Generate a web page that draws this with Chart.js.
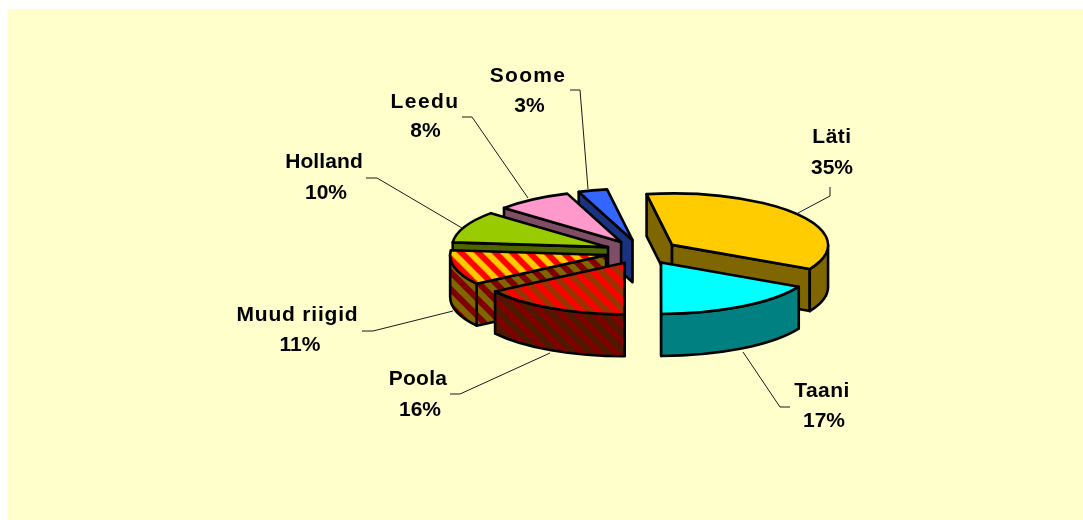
<!DOCTYPE html>
<html>
<head>
<meta charset="utf-8">
<style>html,body{margin:0;padding:0;background:#fff}canvas{display:block}</style>
<script src="https://cdn.jsdelivr.net/npm/chart.js@4"></script>
</head>
<body>
<canvas id="c" width="1083" height="520"></canvas>
<script>
const categories = ['Läti', 'Taani', 'Poola', 'Muud riigid', 'Holland', 'Leedu', 'Soome'];
const shares = [35.4, 17.2, 15.6, 10.9, 10, 7.9, 3];

// Styling, kept apart from the data
const SQUASH = 0.33, DEPTH = 42, RADIUS = 156, EXPLODE = 37;
const topColors  = ['#FFCC00', '#00FFFF', ['#FF0000', '#993300'], ['#FF0000', '#FFCC00'], '#99CC00', '#FF99CC', '#3366FF'];
const sideColors = ['#806600', '#008080', ['#800000', '#4D1A00'], ['#800000', '#806600'], '#4D6600', '#804D66', '#1A3380'];
const paintOrder = [6, 5, 4, 3, 2, 0, 1];
const labelStyle = [
  {x: 832, y: 142.7, px: 832, py: 174, ls: 0.5},
  {x: 822, y: 396.7, px: 824, py: 427, ls: 0.4},
  {x: 418, y: 385,   px: 420, py: 416, ls: 0.3},
  {x: 297.5, y: 320.7, px: 300, py: 351, ls: 0.8},
  {x: 324, y: 168.3, px: 326, py: 199, ls: 0.1},
  {x: 425, y: 107.7, px: 425.5, py: 137, ls: 1.4},
  {x: 528, y: 81.7,  px: 529.5, py: 111.7, ls: 1.3}
];
const leaders = [
  [[830, 187], [830, 196], [798, 213]],
  [[743, 352], [780, 407], [790, 407]],
  [[550, 353], [460, 394], [450, 394]],
  [[453, 311], [373, 331], [362, 331]],
  [[462, 228], [377, 178], [366, 178]],
  [[528, 198], [472, 117], [462, 117]],
  [[588, 189], [580, 90], [570, 90]]
];

function hatch(pair, yScale) {
  if (typeof pair === 'string') return pair;
  const p = 17, t = document.createElement('canvas');
  t.width = t.height = p;
  const g = t.getContext('2d');
  g.fillStyle = pair[0];
  g.fillRect(0, 0, p, p);
  g.strokeStyle = pair[1];
  g.lineWidth = 6;
  for (const dx of [-p, 0, p]) {
    g.beginPath();
    g.moveTo(dx - p, -p);
    g.lineTo(dx + 2 * p, 2 * p);
    g.stroke();
  }
  const pat = g.createPattern(t, 'repeat');
  pat.setTransform(new DOMMatrix([1, 0, 0, yScale, 0, 0]));
  return pat;
}
const topFills = topColors.map(c => hatch(c, 1 / SQUASH));
const sideFills = sideColors.map(c => hatch(c, 1));

const pie3d = {
  id: 'pie3d',
  beforeDraw(chart) {
    const ctx = chart.ctx;
    ctx.save();
    ctx.fillStyle = '#FFFFCC';
    ctx.fillRect(8, 9, chart.width - 8, chart.height - 9);
    ctx.restore();
  },
  beforeDatasetsDraw(chart) {
    const ctx = chart.ctx, arcs = chart.getDatasetMeta(0).data;
    const outline = () => {
      ctx.strokeStyle = '#000';
      ctx.lineWidth = 2.6;
      ctx.lineJoin = 'round';
      ctx.stroke();
    };
    for (const i of paintOrder) {
      const arc = arcs[i];
      const {x, y, startAngle: a0, endAngle: a1, outerRadius: r} = arc.getProps(['x', 'y', 'startAngle', 'endAngle', 'outerRadius'], true);
      const mid = (a0 + a1) / 2;
      const ox = Math.cos(mid) * EXPLODE, oy = Math.sin(mid) * EXPLODE;
      const ax = x + ox, ay = y + oy * SQUASH;
      const rim = a => [ax + Math.cos(a) * r, ay + Math.sin(a) * r * SQUASH];
      const fill = sideFills[i];

      const face = a => {
        const [rx, ry] = rim(a);
        ctx.beginPath();
        ctx.moveTo(ax, ay);
        ctx.lineTo(rx, ry);
        ctx.lineTo(rx, ry + DEPTH);
        ctx.lineTo(ax, ay + DEPTH);
        ctx.closePath();
        ctx.fillStyle = fill;
        ctx.fill();
        outline();
      };
      if (Math.sin(a0 - Math.PI / 2) > 0) face(a0);
      if (Math.sin(a1 + Math.PI / 2) > 0) face(a1);

      // outer wall: the part of the rim that faces the viewer
      for (const k of [-2, 0, 2]) {
        const lo = Math.max(a0, k * Math.PI), hi = Math.min(a1, (k + 1) * Math.PI);
        if (hi > lo) {
          const [hx, hy] = rim(hi);
          ctx.beginPath();
          ctx.ellipse(ax, ay, r, r * SQUASH, 0, lo, hi);
          ctx.lineTo(hx, hy + DEPTH);
          ctx.ellipse(ax, ay + DEPTH, r, r * SQUASH, 0, hi, lo, true);
          ctx.closePath();
          ctx.fillStyle = fill;
          ctx.fill();
          outline();
        }
      }

      // top surface, drawn by the library's own arc element
      ctx.save();
      ctx.translate(x, y);
      ctx.scale(1, SQUASH);
      ctx.translate(ox - x, oy - y);
      arc.draw(ctx, chart.chartArea);
      ctx.restore();
      ctx.beginPath();
      ctx.moveTo(ax, ay);
      ctx.ellipse(ax, ay, r, r * SQUASH, 0, a0, a1);
      ctx.closePath();
      outline();
    }
    return false;
  },
  afterDraw(chart) {
    const ctx = chart.ctx;
    ctx.save();
    ctx.strokeStyle = '#1a1a1a';
    ctx.lineWidth = 1;
    leaders.forEach(pts => {
      ctx.beginPath();
      pts.forEach(([px, py], k) => k ? ctx.lineTo(px, py) : ctx.moveTo(px, py));
      ctx.stroke();
    });
    ctx.fillStyle = '#000';
    ctx.font = 'bold 21px "Liberation Sans", Arial, sans-serif';
    ctx.textAlign = 'center';
    ctx.textBaseline = 'alphabetic';
    categories.forEach((name, i) => {
      const s = labelStyle[i];
      ctx.letterSpacing = s.ls + 'px';
      ctx.fillText(name, s.x, s.y);
      ctx.letterSpacing = '0px';
      ctx.fillText(Math.round(shares[i]) + '%', s.px, s.py);
    });
    ctx.restore();
  }
};

new Chart(document.getElementById('c'), {
  type: 'pie',
  data: {
    labels: categories,
    datasets: [{
      data: shares,
      backgroundColor: topFills,
      borderWidth: 0,
      radius: RADIUS
    }]
  },
  options: {
    responsive: false,
    animation: false,
    rotation: -9.4,
    radius: RADIUS,
    layout: {padding: {left: 201, right: 0, top: 0, bottom: 16}},
    plugins: {legend: {display: false}, tooltip: {enabled: false}},
    events: []
  },
  plugins: [pie3d]
});
</script>
</body>
</html>
